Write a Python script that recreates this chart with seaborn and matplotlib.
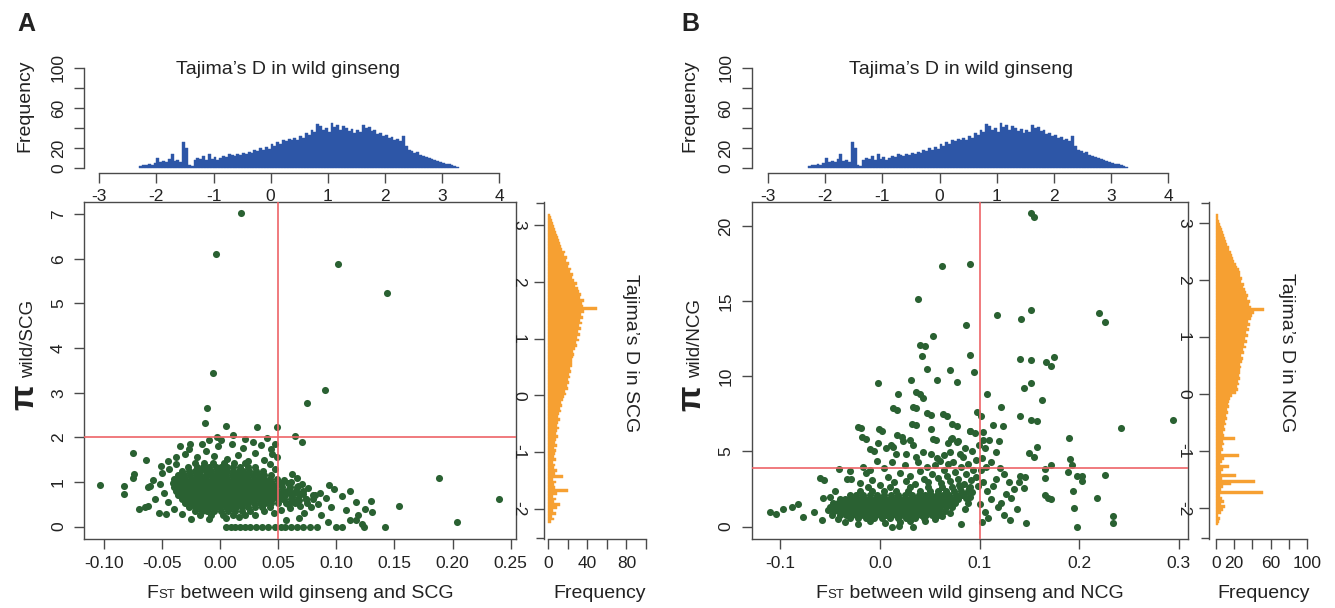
import matplotlib
matplotlib.use("Agg")
import numpy as np
import pandas as pd
import matplotlib.pyplot as plt
import seaborn as sns

sns.set_style("ticks")
plt.rcParams["font.family"] = ["Liberation Sans", "DejaVu Sans"]
plt.rcParams["axes.unicode_minus"] = False

W, H = 1335, 608
BLUE = "#2D56A7"
ORANGE = "#F6A032"
GREEN = "#2A6132"
RED = "#EE6467"
AXC = "#4a4a4a"
TXT = "#222222"

# ---------------------------
# histogram counts (0.05 wide bins)
# ---------------------------
bin_w = 0.05

# Tajima's D in wild ginseng (same histogram on top of A and B)
wild_start = -2.30
wild_counts = [2, 3, 3, 4, 3, 5, 10, 6, 7, 6, 9, 14, 7, 8, 6, 26, 20, 3, 2, 8,
               10, 9, 12, 8, 14, 9, 11, 8, 10, 12, 11, 14, 13, 12, 14, 13, 15, 14, 16, 15,
               18, 17, 20, 18, 21, 19, 24, 22, 26, 24, 28, 27, 29, 28, 30, 28, 32, 30, 35, 33,
               38, 36, 44, 42, 38, 40, 36, 45, 41, 43, 38, 42, 40, 37, 39, 35, 38, 36, 43, 40,
               41, 37, 38, 34, 35, 32, 33, 30, 31, 28, 29, 27, 32, 22, 18, 17, 15, 16, 13, 12,
               11, 10, 9, 8, 7, 6, 5, 4, 4, 3, 2, 1]

# Tajima's D in SCG (right of A)
scg_start = -2.25
scg_counts = [3, 6, 4, 8, 5, 9, 12, 6, 8, 5, 9, 20, 7, 6, 8, 5, 15, 7, 9, 6,
              7, 5, 8, 6, 7, 8, 6, 9, 7, 8, 10, 8, 9, 11, 9, 10, 12, 10, 11, 13,
              12, 14, 13, 15, 16, 18, 17, 20, 19, 21, 20, 22, 21, 23, 22, 24, 25, 24, 26, 27,
              26, 28, 30, 29, 32, 30, 33, 31, 34, 32, 35, 33, 36, 34, 37, 50, 36, 35, 37, 33,
              34, 32, 31, 28, 30, 27, 25, 26, 22, 23, 20, 21, 18, 19, 16, 17, 14, 13, 12, 11,
              10, 9, 8, 7, 6, 5, 4, 3, 2]

# Tajima's D in NCG (right of B)
ncg_start = -2.30
ncg_counts = [2, 4, 5, 3, 6, 8, 10, 6, 9, 7, 5, 52, 6, 8, 17, 43, 7, 22, 6, 8,
              14, 5, 7, 9, 25, 6, 8, 7, 9, 8, 21, 9, 8, 10, 9, 11, 10, 12, 11, 13,
              12, 14, 13, 15, 16, 18, 22, 24, 23, 25, 24, 26, 25, 27, 26, 28, 27, 29, 30, 28,
              31, 30, 33, 31, 34, 32, 35, 33, 36, 34, 37, 35, 38, 40, 42, 53, 38, 36, 37, 34,
              35, 33, 32, 30, 31, 28, 29, 27, 26, 25, 23, 22, 20, 19, 18, 17, 15, 14, 12, 11,
              10, 9, 8, 7, 6, 5, 4, 3, 2]

# ---------------------------
# scatter A: FST vs pi(wild/SCG)
# dense core given as rows (pi level -> FST values)
# ---------------------------
a_core_pi = [1.42, 1.34, 1.25, 1.16, 1.07, 0.98, 0.89, 0.80, 0.71, 0.62, 0.53, 0.44, 0.35, 0.26]
a_core_fst = [
    [-0.022, -0.014, -0.006, 0.003, 0.012, 0.021],
    [-0.028, -0.020, -0.015, -0.010, -0.004, 0.001, 0.006, 0.011, 0.017, 0.024, 0.030],
    [-0.033, -0.027, -0.022, -0.017, -0.012, -0.008, -0.003, 0.002, 0.006, 0.011, 0.016, 0.020,
     0.025, 0.031, 0.037],
    [-0.036, -0.031, -0.026, -0.021, -0.017, -0.012, -0.008, -0.004, 0.001, 0.005, 0.010, 0.014,
     0.019, 0.023, 0.028, 0.033, 0.038, 0.044],
    [-0.040, -0.035, -0.030, -0.025, -0.021, -0.016, -0.012, -0.007, -0.003, 0.002, 0.006, 0.011,
     0.015, 0.020, 0.024, 0.029, 0.033, 0.038, 0.043, 0.049],
    [-0.041, -0.036, -0.032, -0.027, -0.023, -0.018, -0.014, -0.009, -0.005, 0.000, 0.004, 0.009,
     0.013, 0.018, 0.022, 0.027, 0.031, 0.036, 0.040, 0.045, 0.051, 0.058],
    [-0.040, -0.035, -0.030, -0.026, -0.021, -0.017, -0.012, -0.008, -0.003, 0.001, 0.006, 0.010,
     0.015, 0.019, 0.024, 0.028, 0.033, 0.037, 0.042, 0.047, 0.053, 0.060, 0.066],
    [-0.038, -0.033, -0.028, -0.024, -0.019, -0.015, -0.010, -0.006, -0.001, 0.003, 0.008, 0.012,
     0.017, 0.021, 0.026, 0.030, 0.035, 0.039, 0.044, 0.049, 0.054, 0.059, 0.065, 0.071],
    [-0.036, -0.031, -0.026, -0.022, -0.017, -0.013, -0.008, -0.004, 0.001, 0.005, 0.010, 0.014,
     0.019, 0.023, 0.028, 0.032, 0.037, 0.041, 0.046, 0.051, 0.056, 0.062, 0.068],
    [-0.033, -0.028, -0.024, -0.019, -0.015, -0.010, -0.006, -0.001, 0.003, 0.008, 0.012, 0.017,
     0.021, 0.026, 0.030, 0.035, 0.040, 0.045, 0.050, 0.055, 0.061, 0.067, 0.074],
    [-0.030, -0.025, -0.021, -0.016, -0.012, -0.007, -0.003, 0.002, 0.006, 0.011, 0.015, 0.020,
     0.024, 0.029, 0.034, 0.039, 0.044, 0.050, 0.057, 0.064],
    [-0.027, -0.022, -0.018, -0.013, -0.009, -0.004, 0.000, 0.005, 0.009, 0.014, 0.019, 0.024,
     0.030, 0.036, 0.043],
    [-0.022, -0.016, -0.011, -0.005, 0.001, 0.007, 0.013, 0.019, 0.026],
    [-0.017, -0.008, 0.002, 0.011, 0.021],
]
# single points: outliers, fringe and the pi = 0 row
a_points = [
    (0.018, 7.02), (-0.004, 6.10), (0.101, 5.88), (0.144, 5.24), (-0.006, 3.45), (0.090, 3.06),
    (0.075, 2.76), (-0.011, 2.66), (-0.013, 2.33), (0.005, 2.26), (0.032, 2.23), (0.049, 2.23),
    (0.064, 2.03), (-0.003, 2.00), (-0.010, 1.95), (0.021, 1.96), (0.040, 1.99), (0.070, 1.89),
    (-0.026, 1.86), (-0.075, 1.64), (-0.064, 1.50), (-0.074, 1.17), (-0.075, 1.08), (-0.103, 0.93),
    (-0.083, 0.90), (-0.083, 0.72), (-0.062, 0.89), (-0.065, 0.45), (-0.062, 0.47), (-0.051, 1.35),
    (-0.047, 0.29), (0.188, 1.10), (0.240, 0.61), (0.204, 0.10), (0.154, 0.47), (0.142, 0.00),
    (0.130, 0.58), (0.131, 0.32), (0.125, 0.40), (0.117, 0.56), (0.112, 0.80), (0.105, 0.68),
    (0.108, 0.37), (0.098, 0.85), (0.094, 0.93), (0.091, 0.64), (0.087, 0.26), (0.082, 0.71),
    (0.122, 0.05), (0.119, 0.25), (0.117, 0.14), (0.100, 0.00), (0.105, 0.00), (0.124, 0.00),
    (0.005, 0.0), (0.009, 0.0), (0.013, 0.0), (0.017, 0.0), (0.021, 0.0), (0.026, 0.0),
    (0.031, 0.0), (0.036, 0.0), (0.041, 0.0), (0.047, 0.0), (0.052, 0.0), (0.056, 0.0),
    (0.061, 0.0), (0.066, 0.0), (0.071, 0.0), (0.077, 0.0), (0.083, 0.0),
    (-0.045, 1.48), (-0.038, 1.40), (-0.030, 1.62), (-0.020, 1.55), (-0.012, 1.70), (-0.005, 1.58),
    (0.006, 1.52), (0.015, 1.60), (0.024, 1.48), (0.030, 1.66), (0.038, 1.50), (0.043, 1.40),
    (0.047, 1.28), (0.049, 1.55), (0.044, 1.74), (0.035, 1.82), (0.020, 1.76), (0.010, 1.86),
    (-0.002, 1.80), (-0.016, 1.86), (-0.027, 1.74), (-0.050, 1.20), (-0.052, 0.95), (-0.048, 0.75),
    (-0.045, 0.56), (-0.040, 0.40), (-0.033, 0.28), (-0.025, 0.18), (-0.010, 0.16), (0.005, 0.20),
    (0.016, 0.22), (0.030, 0.26), (0.038, 0.34), (0.046, 0.30), (0.052, 0.38), (0.060, 0.42),
    (0.055, 1.05), (0.062, 1.18), (0.066, 1.10), (0.070, 0.96), (0.076, 0.86), (0.080, 0.62),
    (0.078, 0.45), (0.072, 0.30), (0.068, 0.20), (0.057, 0.15), (0.063, 0.55), (0.084, 0.50),
    (0.086, 0.76), (-0.058, 1.05), (-0.056, 0.62), (-0.060, 0.90), (-0.044, 1.30), (-0.038, 1.56),
    (0.001, 1.95), (0.047, 1.85), (0.045, 1.62), (0.052, 0.95), (0.056, 0.72), (0.059, 0.85),
    (0.062, 0.66), (0.065, 0.79), (0.068, 0.59), (0.071, 0.73), (0.074, 0.61), (0.069, 0.46),
    (0.075, 0.53), (0.080, 0.71), (0.067, 0.90), (0.061, 1.00), (0.058, 0.50), (0.054, 0.61),
    (-0.070, 0.40), (-0.053, 0.30), (0.093, 0.10), (0.095, 0.45), (0.112, 0.15), (-0.035, 1.80),
    (0.028, 1.90), (0.011, 2.05),
]

# ---------------------------
# scatter B: FST vs pi(wild/NCG)
# ---------------------------
b_core_pi = [0.55, 0.80, 1.06, 1.32, 1.58, 1.84, 2.10, 2.38, 2.66]
b_core_fst = [
    [-0.030, -0.022, -0.014, -0.006, 0.002, 0.010, 0.018, 0.026, 0.035, 0.044],
    [-0.040, -0.034, -0.029, -0.024, -0.019, -0.014, -0.009, -0.004, 0.001, 0.006, 0.011, 0.016,
     0.021, 0.026, 0.031, 0.036, 0.041, 0.046, 0.052, 0.058],
    [-0.046, -0.041, -0.036, -0.031, -0.026, -0.021, -0.016, -0.011, -0.006, -0.001, 0.004, 0.009,
     0.014, 0.019, 0.024, 0.029, 0.034, 0.039, 0.044, 0.049, 0.054, 0.059, 0.065],
    [-0.050, -0.045, -0.040, -0.035, -0.030, -0.025, -0.020, -0.015, -0.010, -0.005, 0.000, 0.005,
     0.010, 0.015, 0.020, 0.025, 0.030, 0.035, 0.040, 0.045, 0.050, 0.055, 0.060, 0.066, 0.072],
    [-0.047, -0.042, -0.037, -0.032, -0.027, -0.022, -0.017, -0.012, -0.007, -0.002, 0.003, 0.008,
     0.013, 0.018, 0.023, 0.028, 0.033, 0.038, 0.043, 0.048, 0.053, 0.058, 0.063, 0.069, 0.075],
    [-0.040, -0.035, -0.030, -0.025, -0.020, -0.015, -0.010, -0.005, 0.000, 0.005, 0.010, 0.015,
     0.020, 0.025, 0.030, 0.035, 0.040, 0.045, 0.050, 0.055, 0.060, 0.066, 0.072, 0.078],
    [-0.030, -0.024, -0.017, -0.010, -0.003, 0.004, 0.011, 0.018, 0.025, 0.032, 0.039, 0.045,
     0.051, 0.057, 0.063, 0.069, 0.076, 0.082],
    [-0.020, -0.008, 0.004, 0.016, 0.028, 0.040, 0.050, 0.058, 0.066, 0.074, 0.081, 0.088],
    [-0.012, 0.010, 0.030, 0.048, 0.062, 0.072, 0.080, 0.090],
]
b_points = [
    (0.1515, 20.85), (0.155, 20.58), (0.0624, 17.36), (0.0904, 17.47), (0.0384, 15.17),
    (0.152, 14.44), (0.2205, 14.23), (0.118, 14.12), (0.142, 13.79), (0.2266, 13.59),
    (0.086, 13.43), (0.0537, 12.72), (0.0406, 12.11), (0.045, 12.00), (0.0424, 11.33),
    (0.0904, 11.42), (0.141, 11.17), (0.152, 11.08), (0.175, 11.28), (0.167, 10.93),
    (0.172, 10.70), (0.047, 10.50), (0.070, 10.41), (0.0948, 10.30), (-0.002, 9.59),
    (0.031, 9.77), (0.0576, 9.74), (0.077, 9.61), (0.152, 9.59), (0.145, 9.23), (0.108, 8.85),
    (0.018, 8.80), (0.040, 8.83), (0.163, 8.40), (0.122, 7.98), (0.036, 7.89), (0.0166, 7.78),
    (0.097, 7.66), (0.0515, 7.44), (0.1017, 7.33), (0.067, 7.37), (0.141, 7.33), (0.152, 7.08),
    (0.158, 7.04), (0.294, 7.08), (0.036, 6.77), (0.077, 6.70), (0.114, 6.77), (0.124, 6.73),
    (-0.019, 6.55), (0.242, 6.55), (0.002, 6.39), (0.090, 6.39), (0.1035, 6.32), (-0.0144, 5.83),
    (0.022, 5.99), (0.030, 5.74), (0.056, 5.74), (0.071, 5.83), (0.077, 5.61), (0.110, 5.77),
    (0.120, 5.70), (0.190, 5.92), (-0.006, 5.03), (0.013, 5.32), (0.158, 5.32), (0.117, 4.98),
    (0.150, 4.87), (0.155, 4.65), (0.191, 4.47), (0.193, 4.13), (0.172, 4.13), (-0.030, 3.73),
    (-0.056, 3.11), (-0.029, 3.15), (0.141, 3.35), (0.146, 3.31), (0.166, 3.26), (0.198, 3.40),
    (0.203, 3.37), (0.203, 3.04), (0.226, 3.46), (0.189, 3.64), (0.166, 3.82), (0.145, 2.57),
    (0.194, 2.35), (0.166, 2.12), (0.169, 1.90), (0.172, 1.85), (0.218, 1.90), (0.195, 1.23),
    (0.2345, 0.69), (0.2345, 0.22), (0.198, 0.00), (0.147, 0.25), (0.081, 0.18), (0.033, 0.00),
    (0.019, 0.02), (0.012, 0.00), (-0.111, 0.96), (-0.104, 0.85), (-0.097, 1.18), (-0.0886, 1.32),
    (-0.082, 1.50), (-0.077, 0.63), (-0.057, 1.90), (-0.0585, 0.42), (-0.066, 0.96),
    (0.0134, 7.87), (0.036, 8.93), (0.043, 8.56), (0.033, 7.98), (0.0476, 7.54), (0.063, 7.50),
    (0.032, 6.83), (0.0516, 6.52), (0.072, 6.83), (-0.022, 6.65), (-0.001, 6.48), (-0.018, 5.99),
    (0.017, 6.10), (0.023, 5.70), (-0.002, 5.59), (0.011, 5.41), (0.053, 5.81), (0.068, 5.55),
    (0.072, 5.90), (0.078, 5.70), (0.033, 5.41), (-0.010, 5.14), (0.006, 5.25), (0.016, 4.83),
    (0.026, 4.83), (0.036, 4.61), (0.043, 4.95), (0.051, 4.83), (0.057, 4.54), (0.064, 4.75),
    (0.070, 4.95), (0.080, 4.85), (0.083, 4.60), (0.090, 6.36), (0.095, 6.20), (-0.041, 3.81),
    (-0.060, 3.21), (-0.033, 3.20), (-0.017, 4.00), (-0.014, 3.55), (-0.010, 3.80), (-0.0025, 4.35),
    (0.004, 3.90), (-0.020, 2.90), (-0.008, 3.10), (0.000, 2.80), (0.008, 3.30), (0.014, 2.95),
    (0.020, 3.60), (0.026, 3.05), (0.030, 3.40), (0.035, 2.85), (0.040, 3.70), (0.044, 3.15),
    (0.048, 2.95), (0.052, 3.50), (0.055, 4.10), (0.058, 3.25), (0.061, 2.90), (0.064, 3.80),
    (0.067, 3.40), (0.070, 3.05), (0.073, 4.30), (0.075, 3.65), (0.078, 3.20), (0.081, 3.95),
    (0.084, 2.85), (0.086, 3.50), (0.088, 4.20), (0.091, 3.10), (0.093, 3.75), (0.096, 4.45),
    (0.098, 2.70), (0.012, 4.30), (0.025, 4.10), (0.038, 4.30), (0.047, 4.00), (0.060, 4.40),
    (0.068, 4.20), (0.085, 5.20), (0.092, 5.00), (0.099, 5.40), (0.096, 3.30), (0.089, 2.60),
    (0.079, 2.75), (-0.045, 2.40), (-0.050, 2.00), (-0.052, 1.10), (-0.048, 0.75), (-0.042, 0.50),
    (-0.035, 0.30), (-0.022, 0.20), (-0.010, 0.35), (0.005, 0.25), (0.020, 0.30), (0.030, 0.40),
    (0.045, 0.35), (0.055, 0.50), (0.062, 0.70), (0.070, 0.90), (0.085, 1.20), (0.088, 1.60),
    (0.090, 2.00), (0.092, 2.30), (0.084, 2.20), (0.086, 1.90), (0.104, 5.77), (0.106, 5.20),
    (0.103, 4.54), (0.112, 4.30), (0.121, 3.87), (0.125, 3.50), (0.117, 3.20), (0.130, 2.97),
    (0.135, 2.53), (0.127, 2.20), (0.112, 1.85), (0.119, 1.30), (0.106, 0.96), (0.109, 0.60),
    (0.103, 0.29), (0.125, 0.80), (0.131, 0.45), (0.101, 1.50), (0.108, 2.40), (0.104, 3.00),
    (0.114, 2.70), (0.122, 1.60), (0.132, 1.90), (0.138, 1.20), (0.140, 3.00), (0.102, 3.80),
    (0.107, 4.00),
]


def make_points(core_pi, core_fst, points):
    fst, pi = [], []
    for level, row in zip(core_pi, core_fst):
        fst += row
        pi += [level] * len(row)
    fst += [p[0] for p in points]
    pi += [p[1] for p in points]
    return pd.DataFrame({"fst": fst, "pi": pi})


def make_hist(start, counts):
    centers = start + bin_w * (np.arange(len(counts)) + 0.5)
    df = pd.DataFrame({"d": centers, "n": counts})
    return df, (start, start + bin_w * len(counts))


df_a = make_points(a_core_pi, a_core_fst, a_points)
df_b = make_points(b_core_pi, b_core_fst, b_points)

fig = plt.figure(figsize=(W / 100, H / 100), dpi=100)


def px_axes(left, top, right, bottom):
    return fig.add_axes([left / W, 1 - bottom / H, (right - left) / W, (bottom - top) / H])


def style_ticks(ax, **kw):
    ax.tick_params(direction="out", length=7, width=1, color=AXC, labelsize=12.5,
                   labelcolor=TXT, **kw)


def style_spines(ax, keep):
    for side, sp in ax.spines.items():
        sp.set_visible(side in keep)
        sp.set_color(AXC)
        sp.set_linewidth(1)


def scatter_panel(ax, df, xlim, ylim, xticks, xlabels, yticks, vline, hline):
    sns.scatterplot(data=df, x="fst", y="pi", ax=ax, s=26, color=GREEN, linewidth=0,
                    legend=False, zorder=2)
    ax.axvline(vline, color=RED, lw=1.2, zorder=3)
    ax.axhline(hline, color=RED, lw=1.2, zorder=3)
    ax.set_xlim(*xlim)
    ax.set_ylim(*ylim)
    ax.set_xticks(xticks)
    ax.set_xticklabels(xlabels)
    ax.set_yticks(yticks)
    ax.set_yticklabels([str(v) for v in yticks])
    ax.set_xlabel("")
    ax.set_ylabel("")
    style_spines(ax, ["left", "right", "top", "bottom"])
    style_ticks(ax, pad=5)
    ax.tick_params(axis="y", labelrotation=90, pad=6)
    for t in ax.get_yticklabels():
        t.set_va("center")


def top_hist(ax, xlim):
    df, rng = make_hist(wild_start, wild_counts)
    sns.histplot(data=df, x="d", weights="n", binwidth=bin_w, binrange=rng, ax=ax,
                 color=BLUE, edgecolor=BLUE, linewidth=0.3, alpha=1)
    ax.set_xlim(*xlim)
    ax.set_ylim(-4.4, 104)
    ax.set_xticks(range(-3, 5))
    ax.set_yticks([0, 20, 40, 60, 80, 100])
    ax.set_yticklabels(["0", "20", "", "60", "", "100"])
    ax.set_xlabel("")
    ax.set_ylabel("")
    style_spines(ax, ["left", "bottom"])
    ax.spines["bottom"].set_bounds(-3, 4)
    ax.spines["left"].set_bounds(0, 100)
    style_ticks(ax, pad=5)
    ax.tick_params(axis="y", labelrotation=90, pad=6)
    for t in ax.get_yticklabels():
        t.set_va("center")


def side_hist(ax, start, counts, xlim, ylim, xlabels):
    df, rng = make_hist(start, counts)
    sns.histplot(data=df, y="d", weights="n", binwidth=bin_w, binrange=rng, ax=ax,
                 color=ORANGE, edgecolor=ORANGE, linewidth=0.3, alpha=1)
    ax.set_xlim(*xlim)
    ax.set_ylim(*ylim)
    ax.set_xticks([0, 20, 40, 60, 80, 100])
    ax.set_xticklabels(xlabels)
    ax.set_yticks([-2, -1, 0, 1, 2, 3])
    ax.set_yticklabels(["-2", "-1", "0", "1", "2", "3"])
    # short end marks at both ends of the vertical axis line
    ax.set_yticks([ylim[0] + 0.02, ylim[1] - 0.02], minor=True)
    ax.tick_params(axis="y", which="minor", direction="out", length=6, width=1, color=AXC)
    ax.set_xlabel("")
    ax.set_ylabel("")
    style_spines(ax, ["left", "bottom"])
    ax.spines["bottom"].set_bounds(0, 100)
    style_ticks(ax, pad=5)
    ax.tick_params(axis="y", labelrotation=270, pad=6)
    for t in ax.get_yticklabels():
        t.set_va("center")


def fx(px):
    return px / W


def fy(py):
    return 1 - py / H


def label_run(parts, cx, cy, rotation=0, gap=0):
    # parts: (text, size, weight); cx/cy in pixels from top-left, on the baseline
    r = fig.canvas.get_renderer()
    items = []
    for s, size, weight in parts:
        t = fig.text(0, 0, s, fontsize=size, fontweight=weight, color=TXT,
                     rotation=rotation, rotation_mode="anchor", ha="left", va="baseline")
        ext = t.get_window_extent(r)
        items.append((t, ext.width if rotation == 0 else ext.height))
    total = sum(l for _, l in items) + gap * (len(items) - 1)
    pos = cx - total / 2 if rotation == 0 else cy + total / 2
    for t, l in items:
        if rotation == 0:
            t.set_position((fx(pos), fy(cy)))
            pos += l + gap
        else:
            t.set_position((fx(cx), fy(pos)))
            pos -= l + gap


def text_px(x, y, s, size=14, **kw):
    fig.text(fx(x), fy(y), s, fontsize=size, color=TXT, ha="center", va="center", **kw)


# ---------------------------
# panel A
# ---------------------------
ax_a = px_axes(84, 202, 516, 539)
scatter_panel(ax_a, df_a, (-0.1172, 0.2546), (-0.278, 7.273),
              [-0.10, -0.05, 0.00, 0.05, 0.10, 0.15, 0.20, 0.25],
              ["-0.10", "-0.05", "0.00", "0.05", "0.10", "0.15", "0.20", "0.25"],
              [0, 1, 2, 3, 4, 5, 6, 7], 0.05, 2.0)

ax_at = px_axes(84, 63.7, 516, 172.7)
top_hist(ax_at, (-3.268, 4.297))

ax_ar = px_axes(544, 202, 650, 539)
side_hist(ax_ar, scg_start, scg_counts, (-4.08, 104.1), (-2.528, 3.405),
          ["0", "", "40", "", "80", ""])

# ---------------------------
# panel B
# ---------------------------
ax_b = px_axes(751.5, 202, 1188, 539)
scatter_panel(ax_b, df_b, (-0.1291, 0.3095), (-0.826, 21.61),
              [-0.1, 0.0, 0.1, 0.2, 0.3], ["-0.1", "0.0", "0.1", "0.2", "0.3"],
              [0, 5, 10, 15, 20], 0.1, 3.93)

ax_bt = px_axes(751.5, 63.7, 1188, 172.7)
top_hist(ax_bt, (-3.288, 4.343))

ax_br = px_axes(1209, 202, 1310, 539)
side_hist(ax_br, ncg_start, ncg_counts, (-7.3, 102.8), (-2.537, 3.362),
          ["0", "20", "", "60", "", "100"])

# ---------------------------
# texts
# ---------------------------
text_px(26, 24, "A", size=18, fontweight="bold")
text_px(690, 24, "B", size=18, fontweight="bold")

text_px(288, 69, "Tajima’s D in wild ginseng")
text_px(961, 69, "Tajima’s D in wild ginseng")
text_px(25, 106, "Frequency", rotation=90)
text_px(690, 106, "Frequency", rotation=90)

text_px(630, 353, "Tajima’s D in SCG", rotation=270)
text_px(1287, 353, "Tajima’s D in NCG", rotation=270)
text_px(600, 593, "Frequency")
text_px(1264, 593, "Frequency")

label_run([("F", 14, "normal"), ("ST", 9.5, "normal"), (" between wild ginseng and SCG", 14, "normal")],
          300, 598)
label_run([("F", 14, "normal"), ("ST", 9.5, "normal"), (" between wild ginseng and NCG", 14, "normal")],
          970, 598)
label_run([("π", 24, "bold"), ("wild/SCG", 13.5, "normal")], 33, 355, rotation=90, gap=7)
label_run([("π", 24, "bold"), ("wild/NCG", 13.5, "normal")], 700, 355, rotation=90, gap=7)

fig.savefig("out.png", dpi=100)
